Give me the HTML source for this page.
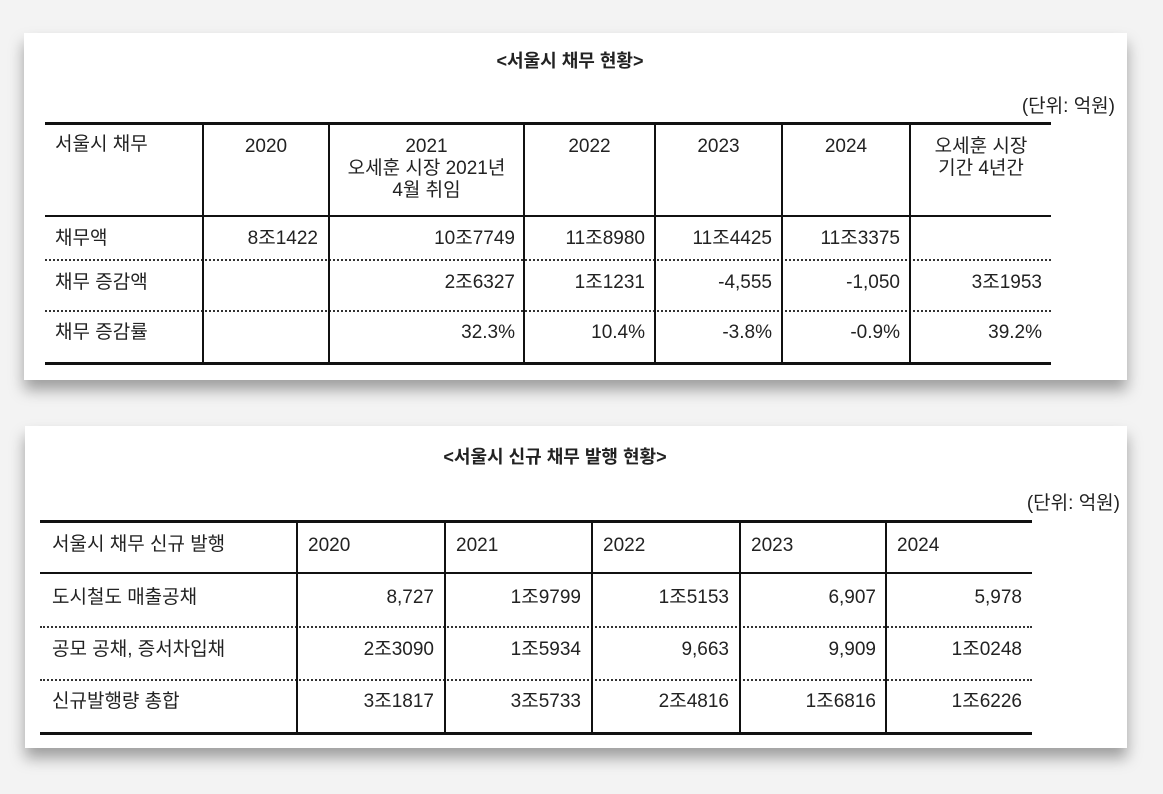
<!DOCTYPE html>
<html><head><meta charset="utf-8"><style>
body{margin:0;width:1163px;height:794px;background:#f3f3f3;position:relative;overflow:hidden;font-family:"Liberation Sans","Noto Sans CJK KR",sans-serif;color:#222}
.card{position:absolute;background:#fff;box-shadow:0 10px 14px rgba(0,0,0,.35)}
.t{position:absolute;font-size:19px;white-space:nowrap;line-height:22px}
.h{position:absolute;background:#111}
.d{position:absolute;height:0;border-top:2px dotted #333}
.r{text-align:right}
.c{text-align:center}
</style></head><body>
<div class="card" style="left:24px;top:33px;width:1103px;height:347px"></div>
<div class="card" style="left:25px;top:426px;width:1102px;height:322px"></div>

<div class="t c" style="left:420px;top:50px;width:300px;font-weight:bold;font-size:18px">&lt;서울시 채무 현황&gt;</div>
<div class="t r" style="left:960px;top:96px;width:155px">(단위: 억원)</div>
<div class="h" style="left:45px;top:122px;width:1006px;height:3px"></div>
<div class="h" style="left:45px;top:215px;width:1006px;height:2px"></div>
<div class="d" style="left:45px;top:259px;width:1006px"></div>
<div class="d" style="left:45px;top:310px;width:1006px"></div>
<div class="h" style="left:45px;top:362px;width:1006px;height:3px"></div>
<div class="h" style="left:202px;top:122px;width:2px;height:242px"></div>
<div class="h" style="left:328px;top:122px;width:2px;height:242px"></div>
<div class="h" style="left:523px;top:122px;width:2px;height:242px"></div>
<div class="h" style="left:654px;top:122px;width:2px;height:242px"></div>
<div class="h" style="left:781px;top:122px;width:2px;height:242px"></div>
<div class="h" style="left:909px;top:122px;width:2px;height:242px"></div>

<div class="t" style="left:55px;top:134px">서울시 채무</div>
<div class="t c" style="left:204px;top:136px;width:124px">2020</div>
<div class="t c" style="left:330px;top:136px;width:193px">2021<br>오세훈 시장 2021년<br>4월 취임</div>
<div class="t c" style="left:525px;top:136px;width:129px">2022</div>
<div class="t c" style="left:656px;top:136px;width:125px">2023</div>
<div class="t c" style="left:783px;top:136px;width:126px">2024</div>
<div class="t c" style="left:911px;top:136px;width:140px">오세훈 시장<br>기간 4년간</div>

<div class="t" style="left:55px;top:228px">채무액</div>
<div class="t r" style="left:204px;top:228px;width:114px">8조1422</div>
<div class="t r" style="left:330px;top:228px;width:185px">10조7749</div>
<div class="t r" style="left:525px;top:228px;width:120px">11조8980</div>
<div class="t r" style="left:656px;top:228px;width:116px">11조4425</div>
<div class="t r" style="left:783px;top:228px;width:117px">11조3375</div>

<div class="t" style="left:55px;top:272px">채무 증감액</div>
<div class="t r" style="left:330px;top:272px;width:185px">2조6327</div>
<div class="t r" style="left:525px;top:272px;width:120px">1조1231</div>
<div class="t r" style="left:656px;top:272px;width:116px">-4,555</div>
<div class="t r" style="left:783px;top:272px;width:117px">-1,050</div>
<div class="t r" style="left:911px;top:272px;width:131px">3조1953</div>

<div class="t" style="left:55px;top:322px">채무 증감률</div>
<div class="t r" style="left:330px;top:322px;width:185px">32.3%</div>
<div class="t r" style="left:525px;top:322px;width:120px">10.4%</div>
<div class="t r" style="left:656px;top:322px;width:116px">-3.8%</div>
<div class="t r" style="left:783px;top:322px;width:117px">-0.9%</div>
<div class="t r" style="left:911px;top:322px;width:131px">39.2%</div>

<div class="t c" style="left:380px;top:446px;width:350px;font-weight:bold;font-size:18px">&lt;서울시 신규 채무 발행 현황&gt;</div>
<div class="t r" style="left:965px;top:493px;width:155px">(단위: 억원)</div>
<div class="h" style="left:40px;top:520px;width:992px;height:3px"></div>
<div class="h" style="left:40px;top:572px;width:992px;height:2px"></div>
<div class="d" style="left:40px;top:626px;width:992px"></div>
<div class="d" style="left:40px;top:679px;width:992px"></div>
<div class="h" style="left:40px;top:732px;width:992px;height:3px"></div>
<div class="h" style="left:296px;top:520px;width:2px;height:214px"></div>
<div class="h" style="left:444px;top:520px;width:2px;height:214px"></div>
<div class="h" style="left:591px;top:520px;width:2px;height:214px"></div>
<div class="h" style="left:739px;top:520px;width:2px;height:214px"></div>
<div class="h" style="left:885px;top:520px;width:2px;height:214px"></div>

<div class="t" style="left:52px;top:534px">서울시 채무 신규 발행</div>
<div class="t" style="left:308px;top:535px">2020</div>
<div class="t" style="left:456px;top:535px">2021</div>
<div class="t" style="left:603px;top:535px">2022</div>
<div class="t" style="left:751px;top:535px">2023</div>
<div class="t" style="left:897px;top:535px">2024</div>

<div class="t" style="left:52px;top:587px">도시철도 매출공채</div>
<div class="t r" style="left:298px;top:587px;width:136px">8,727</div>
<div class="t r" style="left:446px;top:587px;width:135px">1조9799</div>
<div class="t r" style="left:593px;top:587px;width:136px">1조5153</div>
<div class="t r" style="left:741px;top:587px;width:135px">6,907</div>
<div class="t r" style="left:887px;top:587px;width:135px">5,978</div>

<div class="t" style="left:52px;top:639px">공모 공채, 증서차입채</div>
<div class="t r" style="left:298px;top:639px;width:136px">2조3090</div>
<div class="t r" style="left:446px;top:639px;width:135px">1조5934</div>
<div class="t r" style="left:593px;top:639px;width:136px">9,663</div>
<div class="t r" style="left:741px;top:639px;width:135px">9,909</div>
<div class="t r" style="left:887px;top:639px;width:135px">1조0248</div>

<div class="t" style="left:52px;top:691px">신규발행량 총합</div>
<div class="t r" style="left:298px;top:691px;width:136px">3조1817</div>
<div class="t r" style="left:446px;top:691px;width:135px">3조5733</div>
<div class="t r" style="left:593px;top:691px;width:136px">2조4816</div>
<div class="t r" style="left:741px;top:691px;width:135px">1조6816</div>
<div class="t r" style="left:887px;top:691px;width:135px">1조6226</div>
</body></html>
